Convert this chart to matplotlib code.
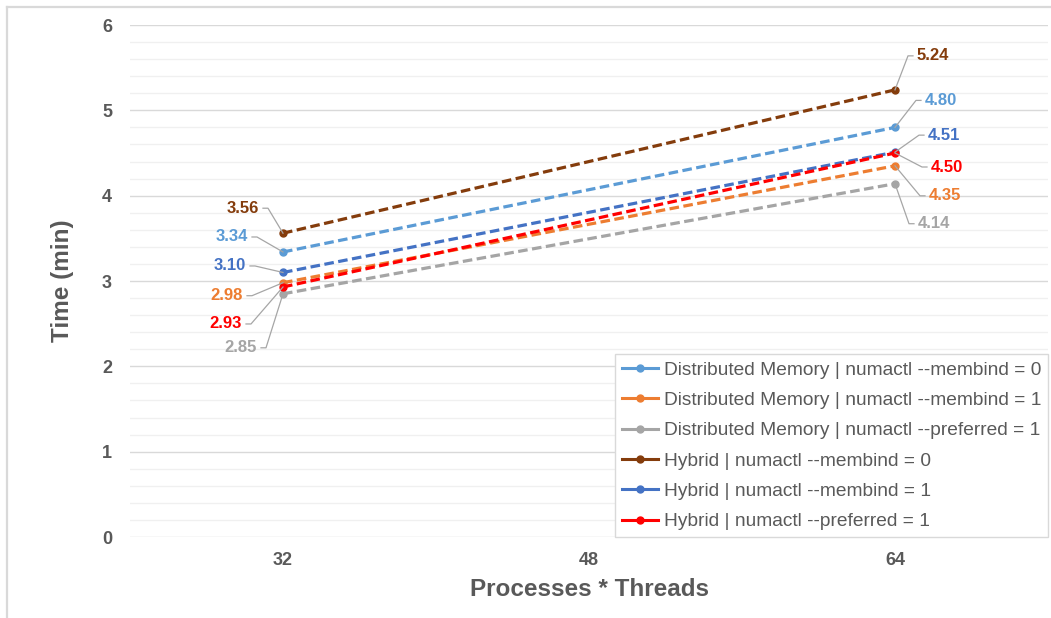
import matplotlib

matplotlib.use("Agg")
import matplotlib.pyplot as plt
import matplotlib.transforms as mtransforms
from matplotlib.lines import Line2D
from matplotlib.ticker import MultipleLocator

plt.rcParams["font.family"] = ["Liberation Sans", "DejaVu Sans"]

# x positions (processes * threads) and run times in minutes
x_ticks = [32, 48, 64]
x_runs = [32, 64]

series_names = [
    "Distributed Memory | numactl --membind = 0",
    "Distributed Memory | numactl --membind = 1",
    "Distributed Memory | numactl --preferred = 1",
    "Hybrid | numactl --membind = 0",
    "Hybrid | numactl --membind = 1",
    "Hybrid | numactl --preferred = 1",
]
dm_membind0 = [3.34, 4.80]
dm_membind1 = [2.98, 4.35]
dm_preferred1 = [2.85, 4.14]
hy_membind0 = [3.56, 5.24]
hy_membind1 = [3.10, 4.51]
hy_preferred1 = [2.93, 4.50]
series_values = [dm_membind0, dm_membind1, dm_preferred1,
                 hy_membind0, hy_membind1, hy_preferred1]

colors = ["#5B9BD5", "#ED7D31", "#A5A5A5", "#843C0C", "#4472C4", "#FF0000"]

# label placement: pixel offset of the label edge from its point (screen y down)
label_offsets = [
    [(-35, -15), (30, -27)],
    [(-40, 13), (34, 30)],
    [(-26, 54), (23, 40)],
    [(-24, -25), (22, -34)],
    [(-37, -6.5), (33, -17)],
    [(-41, 37), (36, 14)],
]

TXT = "#595959"
GRID = "#D9D9D9"
MINOR = "#F0F0F0"
LEADER = "#A6A6A6"

fig = plt.figure(figsize=(10.51, 6.18), dpi=100)
ax = fig.add_axes([130 / 1051, 1 - 537 / 618, 918 / 1051, 512 / 618])

ax.set_xlim(24, 72)
ax.set_ylim(0, 6)
ax.set_xticks(x_ticks)
ax.yaxis.set_major_locator(MultipleLocator(1))
ax.yaxis.set_minor_locator(MultipleLocator(0.2))
ax.grid(True, which="major", axis="y", color=GRID, lw=1.0, zorder=0)
ax.grid(True, which="minor", axis="y", color=MINOR, lw=1.0, zorder=0)
ax.set_axisbelow(True)
for s in ax.spines.values():
    s.set_visible(False)
ax.tick_params(which="both", length=0)
ax.tick_params(axis="x", pad=11, labelsize=13, labelcolor=TXT)
ax.tick_params(axis="y", pad=13, labelsize=13, labelcolor=TXT)
for lab in ax.get_xticklabels() + ax.get_yticklabels():
    lab.set_fontweight("bold")

for name, vals, col, offs in zip(series_names, series_values, colors, label_offsets):
    ax.plot(x_runs, vals, color=col, lw=2.3, dashes=(3, 1.4), marker="o",
            ms=5, mec=col, mfc=col, zorder=3)
    for xv, yv, (dx, dy) in zip(x_runs, vals, offs):
        side = 1 if dx > 0 else -1
        ax.annotate(f"{yv:.2f}", (xv, yv), xytext=(dx, -dy),
                    textcoords="offset pixels", ha="left" if side > 0 else "right",
                    va="center", fontsize=12, fontweight="bold", color=col, zorder=5)
        # leader: short horizontal stub next to the label, then a line to the point
        sx0 = dx - side * 4
        sx1 = dx - side * 9
        trans = mtransforms.ScaledTranslation(xv, yv, ax.transData)
        ax.add_line(Line2D([sx0, sx1, 0], [-dy, -dy, 0], color=LEADER, lw=0.9,
                           transform=trans, zorder=4))

handles = [Line2D([], [], color=c, lw=2.2, marker="o", ms=5) for c in colors]
leg = ax.legend(handles, series_names, loc="lower right", bbox_to_anchor=(1, 0),
                borderaxespad=0, fontsize=13.75, frameon=True, fancybox=False,
                framealpha=1, edgecolor=GRID, handlelength=1.9, handletextpad=0.3,
                labelspacing=0.68, borderpad=0.35, labelcolor=TXT)
leg.get_frame().set_linewidth(1.0)

ax.set_xlabel("Processes * Threads", fontsize=17.5, fontweight="bold", color=TXT, labelpad=6)
ax.set_ylabel("Time (min)", fontsize=17.5, fontweight="bold", color=TXT, labelpad=20)

# chart-area border on the left and top
fig.add_artist(Line2D([7 / 1051, 7 / 1051], [0, 1 - 7 / 618], color=GRID, lw=1.6,
                      transform=fig.transFigure))
fig.add_artist(Line2D([7 / 1051, 1], [1 - 7 / 618, 1 - 7 / 618], color=GRID, lw=1.6,
                      transform=fig.transFigure))

fig.savefig("out.png", dpi=100)
